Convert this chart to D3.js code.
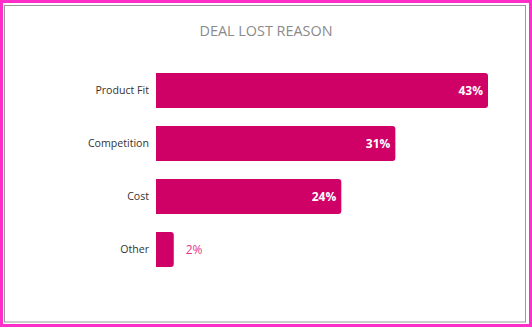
<!DOCTYPE html>
<html>
<head>
<meta charset="utf-8">
<script src="https://cdn.jsdelivr.net/npm/d3@7"></script>
<style>
  html, body { margin: 0; padding: 0; background: #fff; }
  svg { display: block; }
</style>
</head>
<body>
<script>
// data
const reasons = ["Product Fit", "Competition", "Cost", "Other"];
const shares = [43, 31, 24, 2.3];

const width = 532, height = 327;

const svg = d3.select("body").append("svg")
  .attr("width", width)
  .attr("height", height);

// outer pink frame
svg.append("rect")
  .attr("x", 1.5).attr("y", 1.5)
  .attr("width", width - 3).attr("height", height - 3)
  .style("fill", "#fff")
  .style("stroke", "#ff2ec8")
  .style("stroke-width", 3);

// inner grey frame
svg.append("rect")
  .attr("x", 4.5).attr("y", 5.5)
  .attr("width", 521).attr("height", 316.5)
  .style("fill", "none")
  .style("stroke", "#9a9a9a")
  .style("stroke-width", 1);

svg.append("text")
  .attr("x", 266)
  .attr("y", 36)
  .attr("text-anchor", "middle")
  .style("font-family", "'Open Sans', sans-serif")
  .style("font-size", "14.4px")
  .style("fill", "#8a8a8a")
  .text("DEAL LOST REASON");

const x = d3.scaleLinear()
  .domain([0, 43])
  .range([156, 488]);

const y = d3.scaleBand()
  .domain(reasons)
  .range([64, 276])
  .paddingInner(0.34)
  .paddingOuter(0.17);

const rows = reasons.map((r, i) => ({ name: r, value: shares[i] }));

// bar with rounded right end
function barPath(d) {
  const x0 = x(0), x1 = x(d.value), y0 = y(d.name), h = y.bandwidth();
  const r = 3;
  return `M${x0},${y0}H${x1 - r}Q${x1},${y0} ${x1},${y0 + r}V${y0 + h - r}Q${x1},${y0 + h} ${x1 - r},${y0 + h}H${x0}Z`;
}

svg.selectAll("path.bar")
  .data(rows)
  .join("path")
  .attr("class", "bar")
  .attr("d", barPath)
  .style("fill", "#cf0066");

svg.selectAll("text.cat")
  .data(rows)
  .join("text")
  .attr("class", "cat")
  .attr("x", 149)
  .attr("y", d => y(d.name) + y.bandwidth() / 2)
  .attr("dy", "0.35em")
  .attr("text-anchor", "end")
  .style("font-family", "'Open Sans', sans-serif")
  .style("font-size", "10.6px")
  .style("fill", "#333")
  .text(d => d.name);

svg.selectAll("text.val")
  .data(rows)
  .join("text")
  .attr("class", "val")
  .attr("x", d => d.value > 5 ? x(d.value) - 5 : x(d.value) + 12)
  .attr("y", d => y(d.name) + y.bandwidth() / 2)
  .attr("dy", "0.35em")
  .attr("text-anchor", d => d.value > 5 ? "end" : "start")
  .style("font-family", "'Open Sans', sans-serif")
  .style("font-size", "12px")
  .style("font-weight", d => d.value > 5 ? "bold" : "normal")
  .style("fill", d => d.value > 5 ? "#fff" : "#e8348a")
  .text(d => Math.round(d.value) + "%");
</script>
</body>
</html>
